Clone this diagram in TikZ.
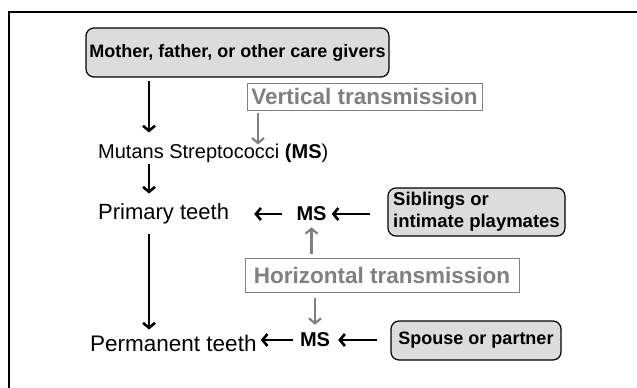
\documentclass[tikz,border=0pt]{standalone}
\usepackage{fontspec}
\setmainfont{Liberation Sans}
\usetikzlibrary{arrows.meta}
\definecolor{boxgray}{HTML}{DCDCDC}
\definecolor{txtgray}{HTML}{808080}

\begin{document}
\begin{tikzpicture}[x=1pt, y=-1pt,
  >={Straight Barb[length=5pt,width=12pt]},
  source/.style={
    rectangle,
    rounded corners=8pt,
    draw,
    line width=1.2pt,
    fill=boxgray,
    inner sep=0pt,
    font=\bfseries\fontsize{18}{22}\selectfont
  },
  route/.style={
    rectangle,
    draw=txtgray,
    line width=1pt,
    text=txtgray,
    inner sep=0pt,
    font=\bfseries\fontsize{22.5}{26}\selectfont
  },
  stage/.style={
    inner sep=0pt,
    anchor=west,
    font=\fontsize{22}{26}\selectfont
  },
  bug/.style={
    inner sep=0pt,
    font=\bfseries\fontsize{20}{24}\selectfont
  },
  arrow/.style={
    ->, line width=2.6pt
  },
  grayarrow/.style={
    ->, line width=2.2pt, draw=txtgray
  }
  ]

  \pgfmathsetmacro{\ym}{153}
  \pgfmathsetmacro{\yp}{214}
  \pgfmathsetmacro{\yq}{343}

  \useasboundingbox (0,0) rectangle (637,388);
  \draw [line width=1.5pt] (9,388) -- (9,12) -- (637,12);

  \coordinate (axis) at (149,0);
  \coordinate (vaxis) at (258,0);

  \node [source, minimum width=303, minimum height=49] (carers) at (237.5,52.5)
  {Mother, father, or other care givers};
  \node [route, minimum width=235, minimum height=27] (vertical) at (364.5,96.5)
  {Vertical transmission};
  \node [stage, font=\fontsize{20}{24}\selectfont] (mutans) at (98,\ym)
  {Mutans Streptococci \textbf{(MS})};

  \node [stage] (primary) at (98,\yp) {Primary teeth};
  \node [bug] (msprim) at (311.5,\yp) {MS};
  \node [source, minimum width=177, minimum height=48, align=left,
    font=\bfseries\fontsize{18.5}{22}\selectfont] (siblings) at (476.5,212)
  {Siblings or\\intimate playmates};

  \node [route, minimum width=274, minimum height=34] (horizontal) at (382,275)
  {Horizontal transmission};

  \node [stage, font=\fontsize{22.5}{26}\selectfont] (permanent) at (90,\yq)
  {Permanent teeth};
  \node [bug] (msperm) at (315,340) {MS};
  \node [source, minimum width=170, minimum height=39] (spouse) at (476,340.5)
  {Spouse or partner};

  % down the left side
  \draw [arrow, shorten <=3pt, shorten >=11pt] (carers.south -| axis) -- (mutans.north -| axis);
  \draw [arrow, shorten <=1pt, shorten >=10pt] (mutans.south -| axis) -- (primary.north -| axis);
  \draw [arrow, shorten <=10pt, shorten >=5pt] (primary.south -| axis) -- (permanent.north -| axis);

  % from the others
  \draw [arrow, shorten <=14pt, shorten >=25pt] (msprim.west) -- (primary.east |- msprim);
  \draw [arrow, shorten <=17pt, shorten >=5pt] (siblings.west |- msprim) -- (msprim.east);
  \draw [arrow, shorten <=7pt, shorten >=4pt] (msperm.west) -- (permanent.east |- msperm);
  \draw [arrow, shorten <=13pt, shorten >=8pt] (spouse.west |- msperm) -- (msperm.east);

  % transmission
  \draw [grayarrow, shorten <=2pt, shorten >=-1pt] (vertical.south -| vaxis) -- (mutans.north -| vaxis);
  \draw [grayarrow, shorten <=4pt, shorten >=6pt] (horizontal.north -| msprim) -- (msprim.south);
  \draw [grayarrow, shorten <=5pt, shorten >=8pt] (horizontal.south -| msperm) -- (msperm.north);

\end{tikzpicture}
\end{document}
